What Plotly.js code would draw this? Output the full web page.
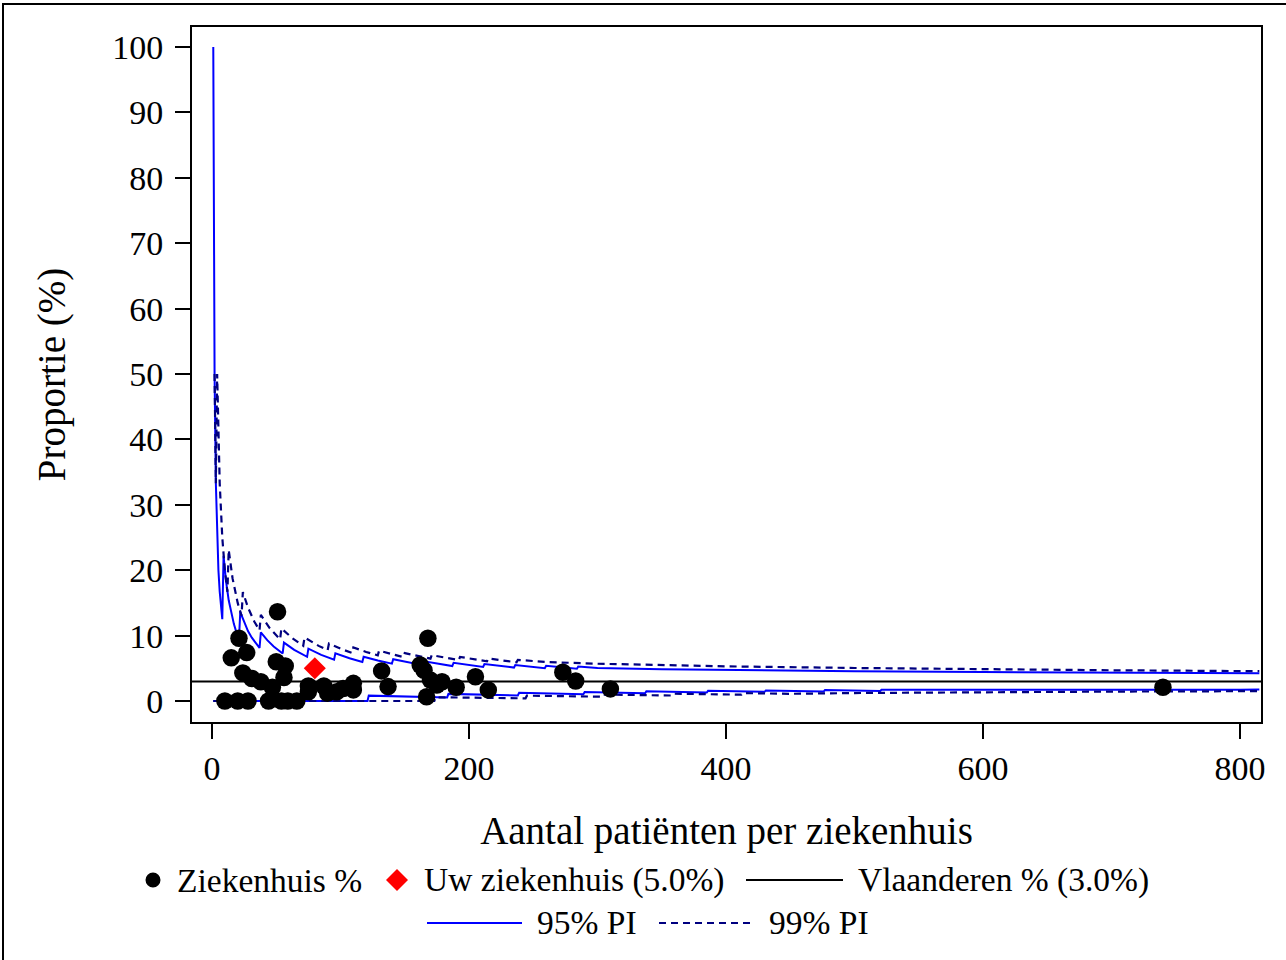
<!DOCTYPE html>
<html>
<head>
<meta charset="utf-8">
<script src="https://cdn.plot.ly/plotly-3.0.1.min.js"></script>
<style>
  html, body { margin: 0; padding: 0; overflow: hidden; background: #fff; }
  #plot { width: 1286px; height: 960px; }
  #frame { position: absolute; left: 2px; top: 3px; width: 1300px; height: 1000px; border: 2px solid #000; pointer-events: none; }
</style>
</head>
<body>
<div id="plot"></div>
<div id="frame"></div>
<script>
// ---------- data ----------
const hospN = [10, 20, 28, 44, 54, 59, 66,
  15, 21, 27, 24, 31, 38, 47, 51, 50, 57, 56,
  75, 75, 87, 90, 97, 102, 110, 110,
  132, 137, 162, 165, 168, 170, 175, 179, 167,
  190, 205, 215, 273, 283, 310, 740];
const hospPct = [0, 0, 0, 0, 0, 0, 0,
  6.6, 9.6, 7.4, 4.3, 3.45, 2.95, 2.1, 13.65, 6.0, 5.35, 3.6,
  2.3, 1.4, 2.3, 1.2, 1.4, 1.9, 2.7, 1.7,
  4.6, 2.2, 5.5, 4.7, 9.6, 3.2, 2.45, 2.95, 0.65,
  2.1, 3.7, 1.7, 4.4, 3.05, 1.85, 2.1];

const ownN = [80];
const ownPct = [5.0];

const flandersPct = 3.0;
const flandersN = [-20, 830];

const pi95UpperN = [1,2,3,4,5,6,7,8, 9,11,13,15,17,19,21, 22,25,28,31,34,37, 38,43,48,55, 56,64,74,
  75,85,95, 96,107,117, 118,129,140, 141,152,163, 164,175,187, 188,211, 212,235, 236,259, 260,284, 285,
  300,350,400,450,500,600,700,800,815];
const pi95Upper = [100,50,33.3,25,20,16.7,14.3,12.5, 22.2,18.2,15.4,13.3,11.8,10.5,9.52, 13.6,12.0,10.7,9.68,8.82,8.11,
  10.5,9.30,8.33,7.27, 8.93,7.81,6.76, 8.0,7.06,6.32, 7.29,6.54,5.98, 6.78,6.20,5.71, 6.38,5.92,5.52,
  6.10,5.71,5.35, 5.85,5.21, 5.66,5.11, 5.51,5.02, 5.38,4.93, 5.26,
  5.03,4.87,4.75,4.65,4.56,4.42,4.33,4.27,4.26];

const pi95LowerN = [1,121,122,183,184,238,239,289,290,337,338,385,386,430,431,476,477,520,521, 600,700,800,815];
const pi95Lower = [0,0,0.82,0.55,1.09,0.84,1.26,1.04,1.38,1.19,1.48,1.30,1.55,1.40,1.62,1.47,1.68,1.54,1.73, 1.68,1.72,1.74,1.75];

const pi99UpperN = [2,3,4,5,6,8,10,12, 13,16,20,23, 24,28,33,37, 38,45,53, 54,62,71, 72,83,90, 91,100,109,
  110,120,129, 130,140,149, 150,160,170, 171,192, 193,214, 215,237, 238,
  260,300,350,400,500,600,700,800,815];
const pi99Upper = [50,33.3,50,40,33.3,25,20,16.7, 23.1,18.75,15,13.04, 16.67,14.29,12.12,10.81, 13.16,11.11,9.43,
  11.11,9.68,8.45, 9.72,8.43,7.78, 8.79,8.0,7.34, 8.18,7.5,6.98, 7.69,7.14,6.71, 7.33,6.88,6.47, 7.02,6.25,
  6.74,6.07, 6.51,5.91, 6.30,
  5.96,5.70,5.48,5.30,5.05,4.85,4.70,4.58,4.56];

const pi99LowerN = [1,173,174,244,245,303,304,359,360,412,413, 450,500,600,700,800,815];
const pi99Lower = [0,0,0.575,0.41,0.816,0.66,0.987,0.836,1.11,0.97,1.21, 1.10,1.22,1.36,1.44,1.50,1.51];

const xTickVals = [0, 200, 400, 600, 800];
const yTickVals = [0, 10, 20, 30, 40, 50, 60, 70, 80, 90, 100];

const legendLabels = ["Ziekenhuis %", "Uw ziekenhuis (5.0%)", "Vlaanderen % (3.0%)", "95% PI", "99% PI"];
const xTitle = "Aantal patiënten per ziekenhuis";
const yTitle = "Proportie (%)";

// ---------- styling ----------
const FONT = '"Liberation Serif", "Times New Roman", serif';
const BLUE = '#0000ff';
const NAVY = '#000080';

const W = 1286, H = 960;
const M = {l: 192, r: 25, t: 27, b: 238};
const pw = W - M.l - M.r, ph = H - M.t - M.b;
const px = x => (x - M.l) / pw;         // page pixel -> paper x
const py = y => (H - M.b - y) / ph;     // page pixel -> paper y

const traces = [
  {x: pi95UpperN, y: pi95Upper, type: 'scatter', mode: 'lines', line: {color: BLUE, width: 2}, showlegend: false, hoverinfo: 'skip'},
  {x: pi95LowerN, y: pi95Lower, type: 'scatter', mode: 'lines', line: {color: BLUE, width: 2}, showlegend: false, hoverinfo: 'skip'},
  {x: pi99UpperN, y: pi99Upper, type: 'scatter', mode: 'lines', line: {color: NAVY, width: 2.2, dash: '7px,5px'}, showlegend: false, hoverinfo: 'skip'},
  {x: pi99LowerN, y: pi99Lower, type: 'scatter', mode: 'lines', line: {color: NAVY, width: 2.2, dash: '7px,5px'}, showlegend: false, hoverinfo: 'skip'},
  {x: flandersN, y: flandersN.map(() => flandersPct), type: 'scatter', mode: 'lines', line: {color: '#000', width: 2}, showlegend: false, hoverinfo: 'skip'},
  {x: hospN, y: hospPct, type: 'scatter', mode: 'markers', marker: {color: '#000', size: 17.5, symbol: 'circle'}, showlegend: false, cliponaxis: false},
  {x: ownN, y: ownPct, type: 'scatter', mode: 'markers', marker: {color: '#ff0000', size: 17, symbol: 'diamond'}, showlegend: false, cliponaxis: false}
];

// custom legend (positions in page pixels)
const LFS = 33.5;
const row1 = 880, row2 = 923;
const annotations = [
  {text: legendLabels[0], x: px(175), y: py(row1)},
  {text: legendLabels[1], x: px(422), y: py(row1)},
  {text: legendLabels[2], x: px(856), y: py(row1)},
  {text: legendLabels[3], x: px(535), y: py(row2)},
  {text: legendLabels[4], x: px(767), y: py(row2)}
].map(a => Object.assign(a, {xref: 'paper', yref: 'paper', xanchor: 'left', yanchor: 'middle', showarrow: false,
  font: {family: FONT, size: LFS, color: '#000'}}));

const r = 7.5;
const dr = 11;
const shapes = [
  {type: 'circle', xref: 'paper', yref: 'paper', x0: px(153 - r), x1: px(153 + r), y0: py(row1 + r), y1: py(row1 - r), fillcolor: '#000', line: {width: 0}},
  {type: 'path', xref: 'paper', yref: 'paper', fillcolor: '#ff0000', line: {width: 0},
    path: `M ${px(397)} ${py(row1 - dr)} L ${px(397 + dr)} ${py(row1)} L ${px(397)} ${py(row1 + dr)} L ${px(397 - dr)} ${py(row1)} Z`},
  {type: 'line', xref: 'paper', yref: 'paper', x0: px(746), x1: px(843), y0: py(row1), y1: py(row1), line: {color: '#000', width: 2}},
  {type: 'line', xref: 'paper', yref: 'paper', x0: px(427), x1: px(522), y0: py(row2), y1: py(row2), line: {color: BLUE, width: 2}},
  {type: 'line', xref: 'paper', yref: 'paper', x0: px(659), x1: px(753), y0: py(row2), y1: py(row2), line: {color: NAVY, width: 2.2, dash: '7px,5px'}}
];

const layout = {
  width: W, height: H,
  margin: M,
  paper_bgcolor: '#fff', plot_bgcolor: '#fff',
  font: {family: FONT, color: '#000'},
  showlegend: false,
  xaxis: {
    range: [-15.56, 816.3], tickvals: xTickVals, ticks: 'outside', ticklen: 15, tickwidth: 2, tickcolor: '#000',
    showgrid: false, zeroline: false, showline: true, linecolor: '#000', linewidth: 2, mirror: true,
    tickfont: {family: FONT, size: 34}, ticklabelstandoff: 0,
    title: {text: xTitle, font: {family: FONT, size: 39}, standoff: 31}
  },
  yaxis: {
    range: [-3.21, 103.06], tickvals: yTickVals, ticks: 'outside', ticklen: 15, tickwidth: 2, tickcolor: '#000',
    showgrid: false, zeroline: false, showline: true, linecolor: '#000', linewidth: 2, mirror: true,
    tickfont: {family: FONT, size: 34}, ticklabelstandoff: 5,
    title: {text: yTitle, font: {family: FONT, size: 39}, standoff: 35}
  },
  annotations: annotations,
  shapes: shapes
};

Plotly.newPlot('plot', traces, layout, {staticPlot: true, displayModeBar: false});
</script>
</body>
</html>
